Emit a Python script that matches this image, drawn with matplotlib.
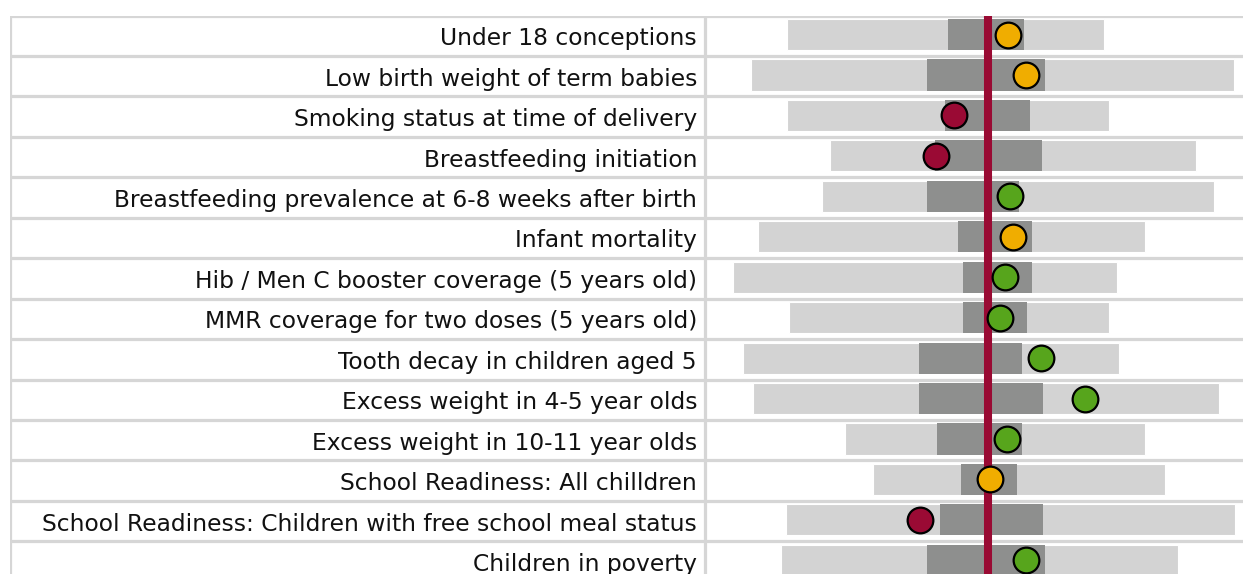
import matplotlib
matplotlib.use("Agg")
import matplotlib.pyplot as plt

# indicators, top to bottom
labels = [
    "Under 18 conceptions",
    "Low birth weight of term babies",
    "Smoking status at time of delivery",
    "Breastfeeding initiation",
    "Breastfeeding prevalence at 6-8 weeks after birth",
    "Infant mortality",
    "Hib / Men C booster coverage (5 years old)",
    "MMR coverage for two doses (5 years old)",
    "Tooth decay in children aged 5",
    "Excess weight in 4-5 year olds",
    "Excess weight in 10-11 year olds",
    "School Readiness: All chilldren",
    "School Readiness: Children with free school meal status",
    "Children in poverty",
]

# spine chart values, standardised so England average = 0
worst = [-0.785, -0.926, -0.785, -0.616, -0.648, -0.898, -0.996,
         -0.777, -0.957, -0.918, -0.558, -0.448, -0.789, -0.808]
q25 = [-0.155, -0.237, -0.166, -0.205, -0.237, -0.115, -0.096,
       -0.096, -0.268, -0.268, -0.198, -0.104, -0.186, -0.237]
q75 = [0.143, 0.225, 0.166, 0.213, 0.123, 0.174, 0.174,
       0.155, 0.135, 0.217, 0.135, 0.115, 0.217, 0.225]
best = [0.456, 0.965, 0.476, 0.816, 0.886, 0.616, 0.507,
        0.476, 0.515, 0.906, 0.616, 0.695, 0.969, 0.746]
local = [0.080, 0.151, -0.131, -0.202, 0.088, 0.100, 0.068,
         0.049, 0.209, 0.382, 0.076, 0.010, -0.264, 0.151]
rag = ["amber", "amber", "red", "red", "green", "amber", "green",
       "green", "green", "green", "green", "amber", "red", "green"]
england = 0.0

colours = {"red": "#9a0a34", "amber": "#f0ad00", "green": "#57a51c"}
light = "#d3d3d3"
dark = "#8e8f8e"
grid = "#d6d6d6"

W, H = 1243, 574
fig = plt.figure(figsize=(W / 100, H / 100), dpi=100)

n = len(labels)
row_h = 40.45
top = 15.5
tab_left = 10
sep = 705
ax_bottom = 1 - (top + n * row_h) / H
ax_height = n * row_h / H

# table in the background
tab = fig.add_axes([tab_left / W, ax_bottom, (W - tab_left) / W, ax_height])
tab.set_xlim(0, 1)
tab.set_ylim(n, 0)
tab.axis("off")
for i in range(n + 1):
    tab.axhline(i, color=grid, lw=2.3, zorder=0)
tab.axvline(0, color=grid, lw=2.3, zorder=0)
sep_x = (sep - tab_left) / (W - tab_left)
tab.axvline(sep_x, color=grid, lw=2.3, zorder=0)
text_x = (697 - tab_left) / (W - tab_left)
for i, lab in enumerate(labels):
    tab.text(text_x, i + 0.5 + 0.235, lab, ha="right", va="baseline",
             fontsize=16.8, family="DejaVu Sans", color="#111111")

# spine chart
ax = fig.add_axes([(sep + 1) / W, ax_bottom, (W - sep - 1) / W, ax_height])
ax.patch.set_alpha(0)
ax.set_xlim(-281.5 / 255.5, 1.0)
ax.set_ylim(n, 0)
ax.axis("off")
ys = [i + 0.47 for i in range(n)]
ax.barh(ys, [b - w for w, b in zip(worst, best)], left=worst, height=0.77,
        color=light, edgecolor="white", linewidth=0.8, zorder=1)
ax.barh(ys, [b - a for a, b in zip(q25, q75)], left=q25, height=0.77,
        color=dark, linewidth=0, zorder=2)
ax.axvline(england, color="#990a33", lw=5.8, zorder=3)
for y, v, c in zip(ys, local, rag):
    ax.plot(v, y, "o", ms=18.5, mfc=colours[c], mec="black", mew=1.6,
            zorder=4, clip_on=False)

fig.savefig("out.png", dpi=100)
